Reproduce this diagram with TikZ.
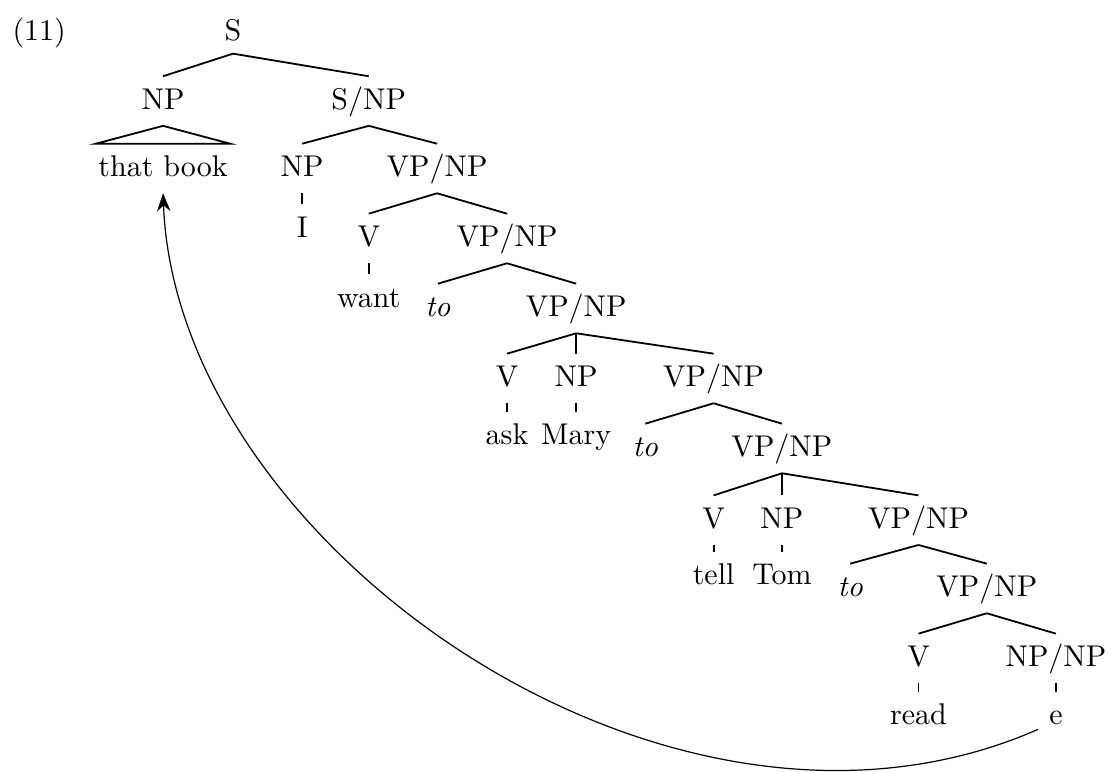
\documentclass[tikz,border=0pt]{standalone}
\usepackage{amsmath}
\usepackage{tikz}
\usetikzlibrary{arrows.meta}
\tikzset{
  cat/.style={anchor=base, text height=7.8pt, text depth=2.33pt, inner ysep=3pt, inner xsep=1pt},
  branch/.style={draw=black, line width=0.6pt},
}
\begin{document}
\begin{tikzpicture}
\useasboundingbox (0,0) rectangle (13.015,-9.033);
\node [anchor=base west, inner sep=0pt] (ex) at (0.14, -0.48) {(11)};
\node [cat, inner ysep=1.7pt] (S) at (2.73, -0.48) {S};
\node [cat] (np) at (1.91, -1.28) {NP};
\node [cat] (snp) at (4.32, -1.28) {S/NP};
\node [cat, inner xsep=0pt, minimum width=44.3pt] (book) at (1.91, -2.07) {that book};
\node [cat] (np2) at (3.54, -2.07) {NP};
\node [cat] (vp1) at (5.12, -2.07) {VP/NP};
\node [cat] (i) at (3.54, -2.78) {I};
\node [cat] (v1) at (4.32, -2.89) {V};
\node [cat] (vp2) at (5.94, -2.89) {VP/NP};
\node [cat] (want) at (4.32, -3.60) {want};
\node [cat] (to1) at (5.13, -3.71) {\textit{to}};
\node [cat] (vp3) at (6.75, -3.71) {VP/NP};
\node [cat] (v2) at (5.94, -4.53) {V};
\node [cat] (np3) at (6.75, -4.53) {NP};
\node [cat] (vp4) at (8.36, -4.53) {VP/NP};
\node [cat] (ask) at (5.94, -5.21) {ask};
\node [cat] (mary) at (6.75, -5.21) {Mary};
\node [cat] (to2) at (7.56, -5.35) {\textit{to}};
\node [cat] (vp5) at (9.16, -5.35) {VP/NP};
\node [cat] (v3) at (8.36, -6.19) {V};
\node [cat] (np4) at (9.16, -6.19) {NP};
\node [cat] (vp6) at (10.76, -6.19) {VP/NP};
\node [cat] (tell) at (8.36, -6.85) {tell};
\node [cat] (tom) at (9.16, -6.85) {Tom};
\node [cat] (to3) at (9.96, -6.99) {\textit{to}};
\node [cat] (vp7) at (11.56, -6.99) {VP/NP};
\node [cat] (v4) at (10.76, -7.81) {V};
\node [cat] (npnp) at (12.37, -7.81) {NP/NP};
\node [cat] (read) at (10.76, -8.49) {read};
\node [cat] (e) at (12.37, -8.49) {e};
\draw [branch] (S.south) to (np.north);
\draw [branch] (S.south) to (snp.north);
\draw [branch] (np.south) -- (book.north west) -- (book.north east) -- cycle;
\draw [branch] (snp.south) to (np2.north);
\draw [branch] (snp.south) to (vp1.north);
\draw [branch] (np2.south) to (i.north);
\draw [branch] (vp1.south) to (v1.north);
\draw [branch] (vp1.south) to (vp2.north);
\draw [branch] (v1.south) to (want.north);
\draw [branch] (vp2.south) to (to1.north);
\draw [branch] (vp2.south) to (vp3.north);
\draw [branch] (vp3.south) to (v2.north);
\draw [branch] (vp3.south) to (np3.north);
\draw [branch] (vp3.south) to (vp4.north);
\draw [branch] (v2.south) to (ask.north);
\draw [branch] (np3.south) to (mary.north);
\draw [branch] (vp4.south) to (to2.north);
\draw [branch] (vp4.south) to (vp5.north);
\draw [branch] (vp5.south) to (v3.north);
\draw [branch] (vp5.south) to (np4.north);
\draw [branch] (vp5.south) to (vp6.north);
\draw [branch] (v3.south) to (tell.north);
\draw [branch] (np4.south) to (tom.north);
\draw [branch] (vp6.south) to (to3.north);
\draw [branch] (vp6.south) to (vp7.north);
\draw [branch] (vp7.south) to (v4.north);
\draw [branch] (vp7.south) to (npnp.north);
\draw [branch] (v4.south) to (read.north);
\draw [branch] (npnp.south) to (e.north);
\draw [-{Stealth[length=6pt, width=4.5pt]}, draw=black] ([shift={(-0.09,0.14)}]e.south west) .. controls +(-4.32,-1.9) and +(0.16,-4.12) .. (book.south);
\end{tikzpicture}
\end{document}
